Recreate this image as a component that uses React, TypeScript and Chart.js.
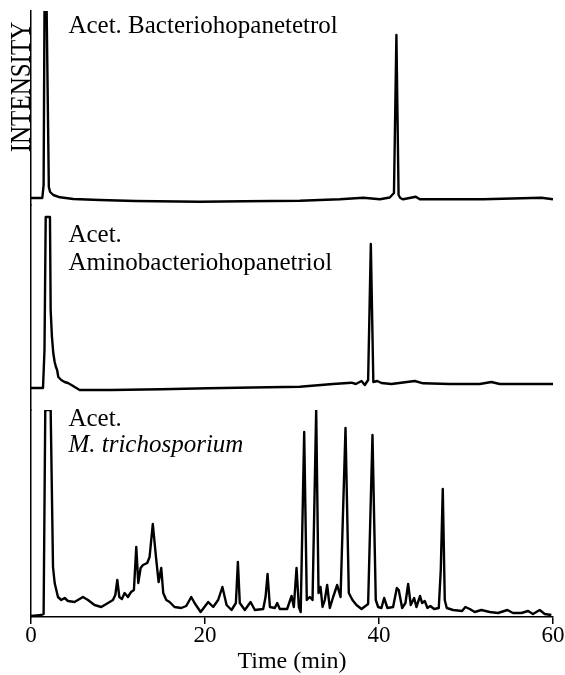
import React, { useEffect, useRef } from "react";
import { Chart, registerables } from "chart.js";

Chart.register(...registerables);

// ---------- data (time in min, intensity in arbitrary units) ----------
const bhtTime = [0, 1.3, 1.45, 1.55, 1.8, 2.05, 2.2, 2.56, 3.33, 4.86, 7.9, 12, 19.4, 24.5, 30.9, 35.5, 38.2, 40.1, 41.24, 41.72, 42.0, 42.25, 42.45, 42.77, 44.23, 44.69, 48.13, 51.96, 58.67, 60];
const bhtIntensity = [7, 7, 20, 194, 194, 18, 13, 10, 7.7, 6, 5, 4, 3.3, 3.8, 4.3, 5.7, 7.3, 5.7, 7.5, 12, 170, 10, 7, 5.7, 8.3, 5.7, 5.7, 5.7, 7.3, 5.7];

const abhtTime = [0, 1.38, 1.55, 1.69, 2.18, 2.26, 2.4, 2.56, 2.72, 2.87, 3.0, 3.14, 3.48, 3.85, 4.25, 4.65, 5.02, 5.59, 9.22, 14.97, 20.3, 25.5, 30.9, 34.7, 36.84, 37.34, 37.99, 38.37, 38.75, 39.06, 39.35, 39.8, 40.28, 41.43, 44.11, 45.07, 48.13, 51.58, 52.92, 53.88, 60];
const abhtIntensity = [22, 22, 60, 193, 193, 100, 74, 57, 48, 43, 40, 33, 30, 28, 27, 25, 23, 20, 20, 20.7, 21.7, 22.5, 23.3, 26, 27.3, 26, 29, 25, 30, 166, 28, 29, 27, 26, 29, 26.7, 26, 26, 28, 26, 26];

const mtTime = [0, 1.2, 1.45, 1.64, 2.26, 2.53, 2.72, 3.1, 3.48, 3.87, 4.25, 5.0, 5.97, 6.55, 7.3, 8.08, 8.85, 9.42, 9.69, 9.92, 10.15, 10.45, 10.76, 11.14, 11.5, 11.83, 12.1, 12.33, 12.6, 12.87, 13.36, 13.63, 14.0, 14.4, 14.67, 14.97, 15.2, 15.55, 15.93, 16.5, 17.27, 17.84, 18.42, 18.8, 19.5, 20.37, 20.94, 21.51, 22.0, 22.48, 23.05, 23.55, 23.78, 24.0, 24.58, 25.24, 25.73, 26.69, 26.96, 27.19, 27.46, 28.03, 28.3, 28.6, 29.44, 29.95, 30.21, 30.52, 30.79, 31.0, 31.4, 31.7, 32.05, 32.36, 32.78, 33.05, 33.28, 33.51, 33.77, 34.04, 34.35, 34.73, 35.19, 35.58, 36.15, 36.53, 36.95, 37.41, 37.99, 38.75, 39.25, 39.63, 39.9, 40.28, 40.59, 40.97, 41.62, 42.05, 42.27, 42.66, 43.04, 43.35, 43.65, 44.04, 44.3, 44.72, 44.95, 45.26, 45.57, 45.9, 46.33, 46.87, 47.1, 47.33, 47.56, 47.79, 48.52, 49.55, 49.93, 50.43, 51.0, 51.77, 52.73, 53.68, 54.76, 55.4, 56.37, 57.13, 57.7, 58.47, 59.05, 59.81];
const mtIntensity = [1, 2, 3, 207, 207, 50, 34, 20, 17, 19, 16, 15, 20, 17, 12, 10, 14, 17, 22, 37, 20, 18, 24, 20, 25, 27, 70, 34, 49, 52, 54, 60, 93, 57, 35, 49, 24, 17, 15, 10, 9, 11, 20, 14, 5, 15, 10, 17, 30, 12, 7, 14, 55, 14, 7, 15, 7, 8, 20, 43, 10, 9, 14, 8, 8, 21, 10, 49, 10, 5, 185, 17, 20, 17, 207, 24, 30, 10, 17, 32, 9, 20, 32, 20, 189, 24, 17, 12, 8, 13, 182, 17, 10, 9, 19, 9, 10, 29, 27, 9, 14, 33, 12, 19, 10, 21, 14, 16, 9, 11, 8, 9, 47, 128, 17, 9, 7, 6, 10, 8, 5, 7, 5, 4, 7, 4, 4, 6, 3, 7, 3, 2];

const xTicks = [0, 20, 40, 60];
const panelLabels = [
  { axis: "yTop", value: 172, text: "Acet. Bacteriohopanetetrol", italic: false },
  { axis: "yMid", value: 168, text: "Acet.", italic: false },
  { axis: "yMid", value: 140, text: "Aminobacteriohopanetriol", italic: false },
  { axis: "yBot", value: 191, text: "Acet.", italic: false },
  { axis: "yBot", value: 165, text: "M. trichosporium", italic: true },
];
const labelTime = 4.3;
const yTitle = "INTENSITY";
const xTitle = "Time (min)";

const FONT = '"Liberation Serif", "Times New Roman", Times, serif';

const toPoints = (t: number[], v: number[]) => t.map((x, i) => ({ x, y: v[i] }));

const textPlugin = {
  id: "chromLabels",
  afterDraw(chart: any) {
    const { ctx, scales, chartArea } = chart;
    const x = scales.x;
    ctx.save();
    ctx.fillStyle = "#000";
    ctx.textBaseline = "alphabetic";
    ctx.textAlign = "left";
    for (const l of panelLabels) {
      ctx.font = `${l.italic ? "italic " : ""}25px ${FONT}`;
      ctx.fillText(l.text, x.getPixelForValue(labelTime), scales[l.axis].getPixelForValue(l.value));
    }
    const cy = scales.yTop.getPixelForValue(118);
    ctx.translate(chartArea.left - 1, cy);
    ctx.rotate(-Math.PI / 2);
    ctx.scale(1, 1.2);
    ctx.textAlign = "center";
    ctx.font = `25px ${FONT}`;
    ctx.fillText(yTitle, 0, 0);
    ctx.restore();
  },
};

const hiddenY = (weight: number, stackWeight: number, max: number) => ({
  type: "linear" as const,
  position: "left" as const,
  stack: "panels",
  stackWeight,
  weight,
  min: 0,
  max,
  ticks: { display: false },
  grid: { display: false, drawTicks: false },
  border: { display: true, color: "#000", width: 1.5 },
  afterFit: (s: any) => {
    s.width = 0;
  },
});

export default function App() {
  const ref = useRef<HTMLCanvasElement | null>(null);
  useEffect(() => {
    if (!ref.current) return;
    const line = (data: any, yAxisID: string) => ({
      data,
      yAxisID,
      xAxisID: "x",
      borderColor: "#000",
      borderWidth: 2.4,
      pointRadius: 0,
      tension: 0,
      fill: false,
      borderJoinStyle: "round" as const,
    });
    const chart = new Chart(ref.current, {
      type: "line",
      data: {
        datasets: [
          line(toPoints(bhtTime, bhtIntensity), "yTop"),
          line(toPoints(abhtTime, abhtIntensity), "yMid"),
          line(toPoints(mtTime, mtIntensity), "yBot"),
        ],
      },
      options: {
        animation: false,
        responsive: true,
        maintainAspectRatio: false,
        devicePixelRatio: 1,
        layout: { padding: { left: 31, right: 12, top: 11, bottom: 0 } },
        plugins: { legend: { display: false }, tooltip: { enabled: false } },
        scales: {
          x: {
            type: "linear",
            position: "bottom",
            min: 0,
            max: 60,
            afterBuildTicks: (s: any) => {
              s.ticks = xTicks.map((v) => ({ value: v }));
            },
            ticks: {
              color: "#000",
              padding: 0,
              maxRotation: 0,
              font: { family: FONT, size: 23, lineHeight: 1.0 },
            },
            grid: {
              drawOnChartArea: false,
              drawTicks: true,
              tickLength: 7,
              color: "#000",
              lineWidth: 1.5,
            },
            border: { display: true, color: "#000", width: 1.5 },
            title: {
              display: true,
              text: xTitle,
              color: "#000",
              font: { family: FONT, size: 24, lineHeight: 1.0 },
              padding: { top: 3, bottom: 1 },
            },
          },
          yTop: hiddenY(3, 194, 194),
          yMid: hiddenY(2, 205, 205),
          yBot: hiddenY(1, 207, 207),
        },
      },
      plugins: [textPlugin],
    });
    return () => chart.destroy();
  }, []);
  return (
    <div style={{ position: "fixed", left: 0, top: 0, width: 565, height: 675, background: "#fff" }}>
      <canvas ref={ref} />
    </div>
  );
}
